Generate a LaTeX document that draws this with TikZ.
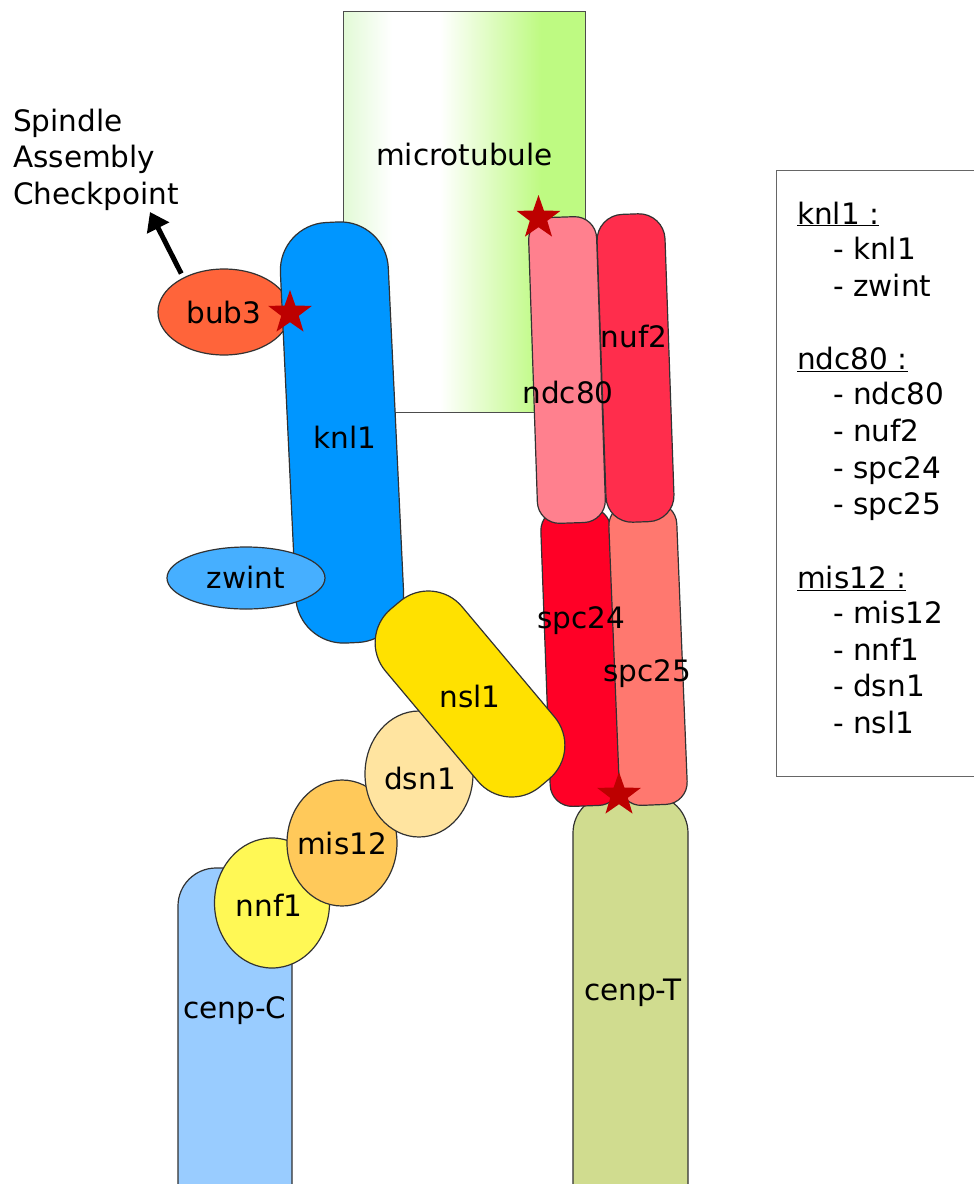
\documentclass[tikz,border=0pt]{standalone}
\usepackage{fontspec}
\setmainfont{DejaVu Sans}
\usetikzlibrary{shapes.geometric,arrows.meta}
\definecolor{mtl}{RGB}{226,250,214}
\definecolor{mtr}{RGB}{190,250,130}
\definecolor{edge}{RGB}{50,50,50}
\definecolor{bubc}{RGB}{255,100,58}
\definecolor{knlc}{RGB}{0,150,255}
\definecolor{zwintc}{RGB}{70,175,255}
\definecolor{cenpcc}{RGB}{153,204,255}
\definecolor{nnfc}{RGB}{255,248,85}
\definecolor{misc}{RGB}{255,201,90}
\definecolor{dsnc}{RGB}{255,228,160}
\definecolor{nslc}{RGB}{255,225,0}
\definecolor{cenptc}{RGB}{208,220,143}
\definecolor{spcxxivc}{RGB}{255,0,38}
\definecolor{spcxxvc}{RGB}{255,120,111}
\definecolor{nufc}{RGB}{255,45,76}
\definecolor{ndcc}{RGB}{255,128,142}
\definecolor{starc}{RGB}{189,0,0}
\newcommand\bigf{\fontsize{29.5}{36.7}\selectfont}
\begin{document}
\begin{tikzpicture}[x=1pt,y=-1pt,
  bar/.style={draw=edge, line width=1.2pt, inner sep=0pt, outer sep=0pt, rectangle},
  blob/.style={draw=edge, line width=1.2pt, inner sep=0pt, outer sep=0pt, ellipse},
  lbl/.style={font=\bigf, anchor=base, inner sep=0pt},
  mark5/.style={star, star points=5, star point ratio=2.5, fill=starc, minimum size=46pt, inner sep=0pt},
  sacarrow/.style={line width=5pt, -{Triangle[length=18pt,width=24pt]}}]
\useasboundingbox (0,0) rectangle (974,1184);
\clip (0,0) rectangle (974,1184);
\fill[white] (0,0) rectangle (974,1184);
% microtubule gradient
\shade[left color=mtl, right color=white] (343.5,11.7) rectangle (392,412.3);
\fill[white] (391.5,11.7) rectangle (440.5,412.3);
\shade[left color=white, right color=mtr] (440,11.7) rectangle (541,412.3);
\fill[mtr] (540.5,11.7) rectangle (585.5,412.3);
\node[draw=black!70, line width=1pt, minimum width=242pt, minimum height=400.6pt, inner sep=0pt] (mt) at (464.5,212) {};
% legend box
\node[draw=black!60, line width=1.2pt, minimum width=240pt, minimum height=606pt, inner sep=0pt, anchor=north west] (legend) at (776,170) {};
% left group
\node[blob, fill=bubc, minimum width=132pt, minimum height=86pt] (bub3) at (224,312) {};
\node[bar, fill=knlc, rounded corners=48pt, minimum width=108pt, minimum height=421pt, rotate=2.7] (knl1) at (342,432.5) {};
\node[blob, fill=zwintc, minimum width=158pt, minimum height=62pt] (zwint) at (246,578) {};
\node[bar, fill=cenpcc, rounded corners=38pt, minimum width=114pt, minimum height=440pt] (cenpC) at (235,1088) {};
\node[blob, fill=nnfc, minimum width=115pt, minimum height=130pt] (nnf1) at (272,903) {};
\node[blob, fill=misc, minimum width=110pt, minimum height=126pt] (mis12) at (342,843) {};
\node[blob, fill=dsnc, minimum width=108pt, minimum height=126pt] (dsn1) at (419,774) {};
% right group
\node[bar, fill=cenptc, rounded corners=38pt, minimum width=115pt, minimum height=520pt] (cenpT) at (630.5,1055) {};
\node[bar, fill=spcxxivc, rounded corners=22pt, minimum width=70pt, minimum height=298pt, rotate=2.1] (spc24) at (580.5,657) {};
\node[bar, fill=spcxxvc, rounded corners=22pt, minimum width=68pt, minimum height=302pt, rotate=2.3] (spc25) at (648,654) {};
\node[bar, fill=nufc, rounded corners=26pt, minimum width=68pt, minimum height=308pt, rotate=2.0] (nuf2) at (635.5,368) {};
\node[bar, fill=ndcc, rounded corners=22pt, minimum width=68pt, minimum height=306pt, rotate=1.9] (ndc80) at (567,370) {};
\node[bar, fill=nslc, rounded corners=44pt, minimum width=100pt, minimum height=232pt, rotate=40] (nsl1) at (470,694) {};
% stars
\node[mark5] (st1) at (290,313) {};
\node[mark5] (st2) at (538.5,218) {};
\node[mark5] (st3) at (619,795) {};
% labels
\node[lbl] (lmt) at (464.5,165) {microtubule};
\node[lbl] (lbub) at (224,323) {bub3};
\node[lbl] (lknl) at (345,448) {knl1};
\node[lbl] (lzw) at (246,588) {zwint};
\node[lbl] (lnsl) at (470,707) {nsl1};
\node[lbl] (ldsn) at (420,789) {dsn1};
\node[lbl] (lmis) at (342,854) {mis12};
\node[lbl] (lnnf) at (269,916) {nnf1};
\node[lbl] (lcc) at (235,1018) {cenp-C};
\node[lbl] (lct) at (633,1000) {cenp-T};
\node[lbl] (lndc) at (568,403) {ndc80};
\node[lbl] (lnuf) at (634,347) {nuf2};
\node[lbl] (lspa) at (581,628) {spc24};
\node[lbl] (lspb) at (647,681) {spc25};
% spindle assembly checkpoint
\node[font=\bigf, align=left, anchor=north west, inner sep=0pt] (sac) at (13,108.6) {Spindle\\Assembly\\Checkpoint};
\coordinate (sactip) at (150,212);
\draw[sacarrow, shorten <=5pt] (bub3.140) -- (sactip);
% legend text
\node[font=\bigf, align=left, anchor=north west, inner sep=0pt] (legtext) at (797,201.6) {\underline{knl1 :}\\[-1.5pt]\hspace*{36pt}- knl1\\\hspace*{36pt}- zwint\\[36.7pt]\underline{ndc80 :}\\[-1.5pt]\hspace*{36pt}- ndc80\\\hspace*{36pt}- nuf2\\\hspace*{36pt}- spc24\\\hspace*{36pt}- spc25\\[36.7pt]\underline{mis12 :}\\[-1.5pt]\hspace*{36pt}- mis12\\\hspace*{36pt}- nnf1\\\hspace*{36pt}- dsn1\\\hspace*{36pt}- nsl1};
\end{tikzpicture}
\end{document}
